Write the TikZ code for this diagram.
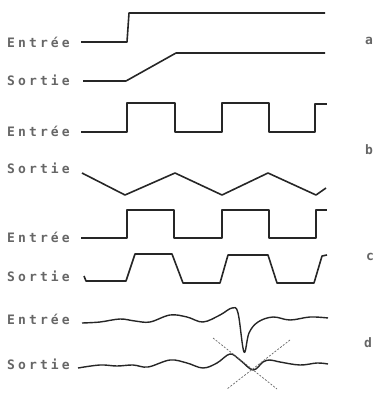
\documentclass[tikz,border=0pt]{standalone}
\usepackage{fontspec}
\newfontfamily\lblfont[LetterSpace=24]{DejaVu Sans Mono}
\begin{document}
\begin{tikzpicture}[x=1pt,y=-1pt,
  lbl/.style={text=black!60, font=\lblfont\fontsize{13}{13}\selectfont\bfseries, anchor=west, inner sep=0pt},
  tag/.style={text=black!60, font=\lblfont\fontsize{13}{13}\selectfont\bfseries, inner sep=0pt},
  sig/.style={draw=black!85, line width=1.6pt, line join=round},
  cross/.style={draw=black!60, line width=0.7pt, dash pattern=on 2pt off 1.5pt}]
\useasboundingbox (0,0) rectangle (385,401);
% a
\node[lbl] (ea) at (7,42) {Entrée};
\node[lbl] (sa) at (7,80) {Sortie};
\node[tag] (ta) at (369,41) {a};
\draw[sig] (81,42) -- (127,42) -- (129,13) -- (325,13);
\draw[sig] (83,81) -- (126,81) -- (176,53) -- (325,53);
% b
\node[lbl] (eb) at (7,131) {Entrée};
\node[lbl] (sb) at (7,168) {Sortie};
\node[tag] (tb) at (369,150) {b};
\draw[sig] (81,132) -- (127,132) -- (127,103) -- (175,103) -- (175,132) -- (222,132) -- (222,103) -- (269,103) -- (269,132) -- (315,132) -- (315,104) -- (327,104);
\draw[sig] (82,173) -- (125,195) -- (175,173) -- (222,195) -- (268,173) -- (316,195) -- (326,188);
% c
\node[lbl] (ec) at (7,237) {Entrée};
\node[lbl] (sc) at (7,276) {Sortie};
\node[tag] (tc) at (370,257) {c};
\draw[sig] (81,238) -- (127,238) -- (127,210) -- (174,210) -- (174,238) -- (222,238) -- (222,210) -- (269,210) -- (269,238) -- (316,238) -- (316,210) -- (327,210);
\draw[sig] (84,276) -- (86,281) -- (126,281) -- (135,254) -- (172,254) -- (183,283) -- (220,283) -- (228,255) -- (268,255) -- (277,283) -- (314,283) -- (322,256) -- (327,255);
% d
\node[lbl] (ed) at (7,319) {Entrée};
\node[lbl] (sd) at (7,364) {Sortie};
\node[tag] (td) at (368,343) {d};
\draw[sig, line width=1.4pt] plot[smooth, tension=0.6] coordinates {(82,323) (100,322) (120,319) (135,321) (150,322) (170,315) (187,317) (203,322) (220,315) (232,308) (238,313) (244,352) (249,333) (258,322) (273,317) (290,320) (310,317) (328,318)};
\draw[sig, line width=1.4pt] plot[smooth, tension=0.6] coordinates {(78,368) (100,365) (117,366) (133,365) (148,367) (170,360) (187,363) (203,368) (217,363) (230,354) (240,360) (253,370) (263,362) (270,360) (280,362) (300,365) (317,363) (328,364)};
\draw[cross] (213,338) -- (277,389);
\draw[cross] (290,340) -- (227,389);
\end{tikzpicture}
\end{document}
